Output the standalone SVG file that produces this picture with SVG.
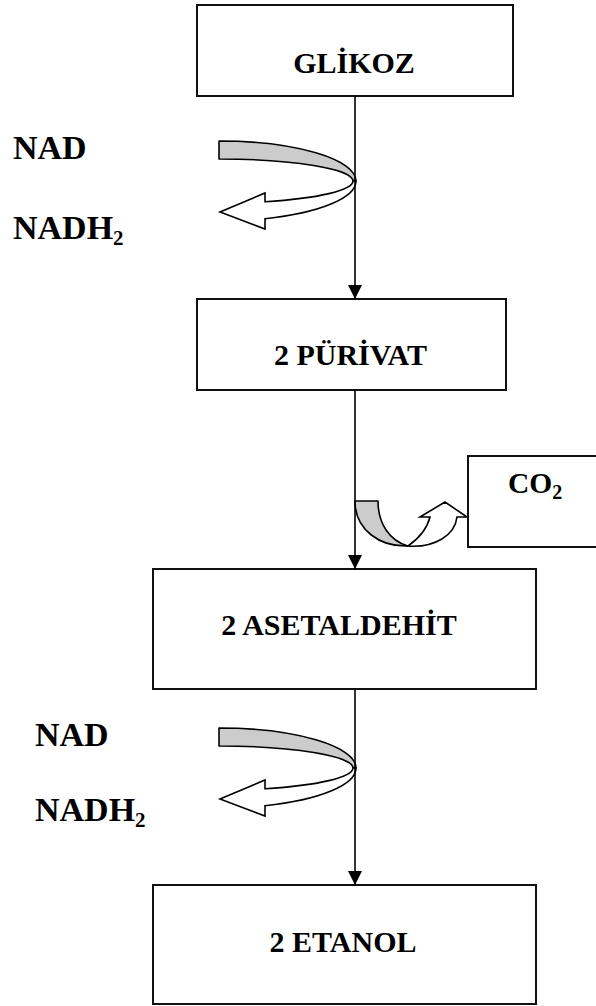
<svg xmlns="http://www.w3.org/2000/svg" width="596" height="1006" viewBox="0 0 596 1006">
<style>
.box{fill:#fff;stroke:#111;stroke-width:2}
.t{font-family:"Liberation Serif","Times New Roman",serif;font-weight:bold;fill:#000}
.bt{font-size:30px;text-anchor:middle}
.lb{font-size:34px}
.sub{font-size:21px}
.band{fill:#cccccc;stroke:#000;stroke-width:1.6;stroke-linejoin:round}
.wa{fill:#fff;stroke:#000;stroke-width:1.6;stroke-linejoin:miter}
.conn{stroke:#000;stroke-width:1.6;fill:none}
</style>
<defs>
<marker id="ah" markerWidth="14" markerHeight="14" viewBox="0 0 14 14" refX="14" refY="7" orient="auto" markerUnits="userSpaceOnUse">
<path d="M0,0 L14,7 L0,14 Z" fill="#000"/>
</marker>
<g id="uturn">
<path class="band" d="M219,141 A137,40 0 0 1 356,181 L353,181 A134,22 0 0 0 219,159 Z"/>
<path class="wa" d="M356,181 A137,40 0 0 1 265,218.7 L265,229 L220,212 L265,193 L265,201.7 A134,22 0 0 0 353,181 Z"/>
</g>
</defs>
<g id="glikoz">
<rect class="box" x="197" y="5" width="316" height="91"/>
<text class="t bt" x="354" y="73">GLİKOZ</text>
</g>
<g id="purivat">
<rect class="box" x="197" y="299" width="309" height="91"/>
<text class="t bt" x="350.5" y="365">2 PÜRİVAT</text>
</g>
<g id="asetaldehit">
<rect class="box" x="153" y="569" width="383" height="120"/>
<text class="t bt" x="339" y="635">2 ASETALDEHİT</text>
</g>
<g id="etanol">
<rect class="box" x="153" y="885" width="383" height="119"/>
<text class="t bt" x="343" y="952">2 ETANOL</text>
</g>
<g id="co2">
<rect class="box" x="468" y="456" width="140" height="91"/>
<text class="t" style="font-size:29.5px" x="508" y="493">CO<tspan class="sub" style="font-size:20px" dy="6">2</tspan></text>
</g>
<g id="nad1">
<use href="#uturn"/>
<text class="t lb" x="13" y="159">NAD</text>
<text class="t lb" x="13" y="239">NADH<tspan class="sub" dy="6">2</tspan></text>
</g>
<g id="nad2">
<use href="#uturn" transform="translate(0,587)"/>
<text class="t lb" x="35" y="746">NAD</text>
<text class="t lb" x="35" y="821">NADH<tspan class="sub" dy="6">2</tspan></text>
</g>
<g id="co2arrow">
<path class="band" d="M355,501 L378,501 C378,524 390,541 408,546 C380,547 355,530 355,501 Z"/>
<path class="wa" d="M408,546 C418,539 427,529 430,517 L420,517 L445,502 L467,517 L457,517 C455,535 435,548 408,546 Z"/>
</g>
<g id="connectors">
<line class="conn" x1="355" y1="96" x2="355" y2="299" marker-end="url(#ah)"/>
<line class="conn" x1="355" y1="390" x2="355" y2="569" marker-end="url(#ah)"/>
<line class="conn" x1="355" y1="689" x2="355" y2="885" marker-end="url(#ah)"/>
</g>
</svg>
